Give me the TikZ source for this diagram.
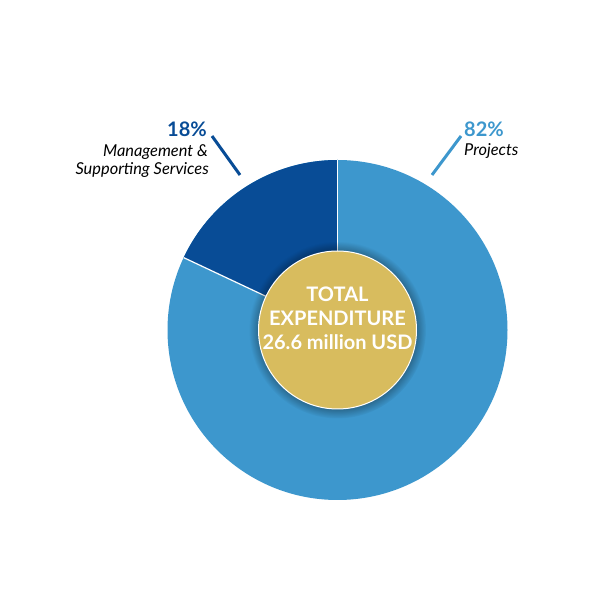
\documentclass[tikz,border=0pt]{standalone}
\usepackage{fontspec}
\setmainfont{Lato}
\usetikzlibrary{shadows}
\definecolor{projblue}{HTML}{3D97CD}
\definecolor{mgmtblue}{HTML}{084C96}
\definecolor{totalgold}{HTML}{D8BC5E}
\begin{document}
\begin{tikzpicture}[x=1pt,y=1pt,
    pct/.style={font=\fontsize{20}{22}\selectfont\bfseries, inner sep=0pt},
    lbl/.style={font=\fontsize{16.4}{18}\selectfont\itshape, inner sep=0pt},
    lead/.style={line width=3pt},
    hubdisc/.style={circle, fill=totalgold, draw=white, line width=1pt, minimum size=158pt,
        circular drop shadow={shadow xshift=0pt, shadow yshift=0pt, shadow scale=1.12, fill=black, opacity=0.4}}]
    \useasboundingbox (0,0) rectangle (600,600);
    \coordinate (c) at (337.5,270);
    % slices
    \fill[projblue] (c) circle[radius=170];
    \fill[mgmtblue] (c) -- ++(90:170) arc[start angle=90, end angle=154.8, radius=170] -- cycle;
    \draw[white, line width=1.2pt] (c) -- ++(90:170);
    \draw[white, line width=1.2pt] (c) -- ++(154.8:170);
    % centre
    \node[hubdisc] (hub) at (c) {};
    \node[font=\fontsize{20}{24}\selectfont\bfseries, text=white, align=center] (total) at ([yshift=12pt]c)
        {TOTAL\\EXPENDITURE\\26.6 million USD};
    % labels
    \node[pct, text=mgmtblue, anchor=base east] (mgmtpct) at (207,463) {18\%};
    \node[lbl, anchor=base east] (mgmtlbl) at (208,443) {Management \&};
    \node[lbl, anchor=base east] (mgmtlbl2) at (209,425) {Supporting Services};
    \node[pct, text=projblue, anchor=base west] (projpct) at (464,463) {82\%};
    \node[lbl, anchor=base west] (projlbl) at (464,444) {Projects};
    \coordinate (mgmta) at (212,464);
    \coordinate (mgmtb) at (240,425);
    \coordinate (proja) at (461,464);
    \coordinate (projb) at (432,425);
    \draw[lead, mgmtblue] (mgmta) -- (mgmtb);
    \draw[lead, projblue] (proja) -- (projb);
\end{tikzpicture}
\end{document}
